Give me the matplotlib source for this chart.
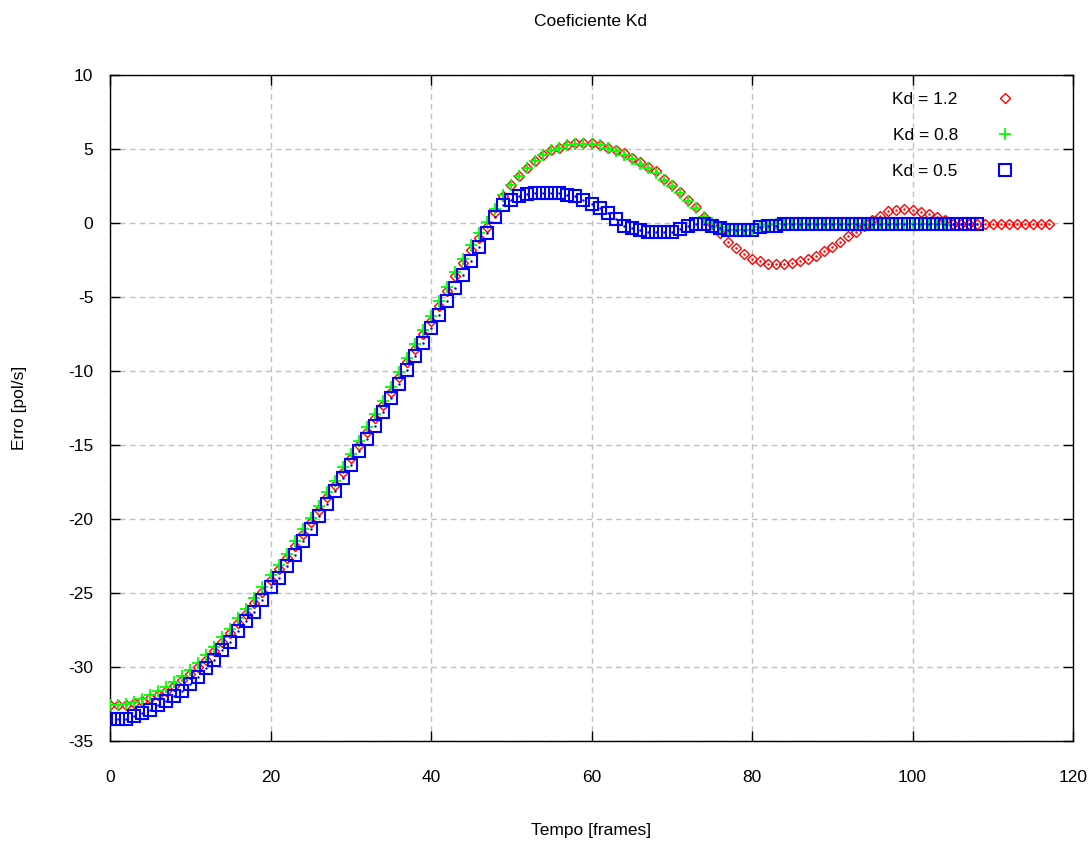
import matplotlib
matplotlib.use("Agg")
import matplotlib.pyplot as plt
import numpy as np

plt.rcParams['font.family'] = ['Liberation Sans Narrow', 'Liberation Sans', 'DejaVu Sans']
plt.rcParams['axes.unicode_minus'] = False

title = "Coeficiente Kd"
xlabel = "Tempo [frames]"
ylabel = "Erro [pol/s]"
labels = ["Kd = 1.2", "Kd = 0.8", "Kd = 0.5"]

kd12 = [-32.57, -32.57, -32.57, -32.45, -32.3, -32.1, -31.9, -31.6, -31.3, -30.9,
        -30.5, -30.0, -29.5, -28.95, -28.3, -27.7, -27.0, -26.4, -25.65, -24.9,
        -24.1, -23.4, -22.65, -21.8, -21.0, -20.2, -19.4, -18.5, -17.7, -16.8,
        -15.9, -15.0, -14.1, -13.2, -12.3, -11.4, -10.4, -9.4, -8.5, -7.5,
        -6.6, -5.6, -4.6, -3.6, -2.7, -1.8, -1.0, -0.25, 0.76, 1.8,
        2.6, 3.2, 3.7, 4.2, 4.6, 4.9, 5.1, 5.3, 5.4, 5.4,
        5.4, 5.3, 5.1, 4.9, 4.7, 4.4, 4.1, 3.8, 3.5, 3.0,
        2.6, 2.1, 1.55, 1.1, 0.4, -0.1, -0.7, -1.3, -1.7, -2.1,
        -2.4, -2.6, -2.75, -2.8, -2.8, -2.7, -2.6, -2.4, -2.2, -1.9,
        -1.6, -1.3, -0.9, -0.6, -0.2, 0.2, 0.5, 0.8, 0.9, 0.95,
        0.9, 0.75, 0.6, 0.4, 0.2, -0.08, -0.08, -0.08, -0.08, -0.08,
        -0.08, -0.08, -0.08, -0.08, -0.08, -0.08, -0.08, -0.08]

kd08 = [-32.55, -32.55, -32.5, -32.35, -32.15, -31.9, -31.65, -31.35, -31.0, -30.6,
        -30.2, -29.7, -29.2, -28.65, -28.0, -27.4, -26.7, -26.1, -25.35, -24.6,
        -23.8, -23.1, -22.35, -21.5, -20.7, -19.9, -19.1, -18.2, -17.4, -16.5,
        -15.6, -14.7, -13.8, -12.9, -12.0, -11.1, -10.1, -9.1, -8.2, -7.2,
        -6.3, -5.3, -4.3, -3.3, -2.4, -1.5, -0.7, 0.05, 0.95, 1.9,
        2.6, 3.2, 3.7, 4.2, 4.6, 4.9, 5.1, 5.3, 5.35, 5.35,
        5.35, 5.25, 5.05, 4.85, 4.6, 4.3, 4.0, 3.7, 3.35, 2.9,
        2.5, 2.0, 1.5, 1.0, 0.4, 0.0, -0.3, -0.5, -0.5, -0.5,
        -0.45, -0.3, -0.15, -0.05, -0.05, -0.05, -0.05, -0.05, -0.05, -0.05,
        -0.05, -0.05, -0.05, -0.05, -0.05, -0.05, -0.05, -0.05, -0.05, -0.05,
        -0.05, -0.05, -0.05, -0.05, -0.05]

kd05 = [-33.5, -33.5, -33.5, -33.3, -33.1, -32.9, -32.6, -32.3, -31.95, -31.6,
        -31.15, -30.65, -30.05, -29.5, -28.85, -28.3, -27.6, -26.9, -26.3, -25.5,
        -24.6, -24.0, -23.2, -22.4, -21.5, -20.7, -19.8, -19.0, -18.1, -17.25,
        -16.35, -15.4, -14.6, -13.7, -12.75, -11.85, -10.9, -9.9, -9.0, -8.1,
        -7.1, -6.2, -5.3, -4.4, -3.5, -2.55, -1.6, -0.7, 0.43, 1.2,
        1.55, 1.8, 1.95, 2.05, 2.05, 2.05, 2.05, 1.9, 1.8, 1.55,
        1.3, 1.0, 0.65, 0.3, -0.2, -0.36, -0.45, -0.6, -0.6, -0.6,
        -0.6, -0.4, -0.2, -0.1, -0.1, -0.2, -0.36, -0.45, -0.45, -0.45,
        -0.45, -0.3, -0.2, -0.2, -0.08, -0.08, -0.08, -0.08, -0.08, -0.08,
        -0.08, -0.08, -0.08, -0.08, -0.08, -0.08, -0.08, -0.08, -0.08, -0.08,
        -0.08, -0.08, -0.08, -0.08, -0.08, -0.08, -0.08, -0.08, -0.08]

x12 = np.arange(len(kd12))
x08 = np.arange(len(kd08))
x05 = np.arange(len(kd05))

W, H = 1088, 841
fig = plt.figure(figsize=(W / 100, H / 100), dpi=100)
ax = fig.add_axes([110 / W, 1 - 741 / H, (1073 - 110) / W, (741 - 75) / H])

fs = 12.5
ax.plot(x12, kd12, linestyle='none', marker='D', ms=5.5, mfc='none', mec='#ff0000', mew=1.0,
        label=labels[0], zorder=3)
ax.plot(x12, kd12, linestyle='none', marker='.', ms=1.5, color='#ff0000', zorder=3)
ax.plot(x08, kd08, linestyle='none', marker='+', ms=8, color='#00ff00', mew=1.3,
        label=labels[1], zorder=4)
ax.plot(x05, kd05, linestyle='none', marker='s', ms=8, mfc='none', mec='#0000ff', mew=1.5,
        label=labels[2], zorder=5)
ax.plot(x05, kd05, linestyle='none', marker='.', ms=1.5, color='#0000ff', zorder=5)

ax.set_xlim(0, 120)
ax.set_ylim(-35, 10)
ax.set_xticks(np.arange(0, 121, 20))
ax.set_yticks(np.arange(-35, 11, 5))
ax.grid(True, color='#c0c0c0', linestyle=(0, (4, 3)), linewidth=1.0)
ax.set_axisbelow(True)
ax.tick_params(direction='in', length=7, width=1, top=True, right=True,
               labelsize=fs, colors='black')
ax.tick_params(axis='x', pad=21)
ax.tick_params(axis='y', pad=12)
for s in ax.spines.values():
    s.set_linewidth(1.0)
    s.set_color('black')

fig.text(591 / W, 1 - 22 / H, title, ha='center', va='center', fontsize=fs)
fig.text(591 / W, 1 - 830 / H, xlabel, ha='center', va='center', fontsize=fs)
fig.text(20 / W, 1 - 408 / H, ylabel, ha='center', va='center', rotation=90, fontsize=fs)

leg = ax.legend(loc='upper right', bbox_to_anchor=(1022 / W, 1 - 92 / H),
                bbox_transform=fig.transFigure, frameon=False, markerfirst=False,
                fontsize=fs, handlelength=2.0, handletextpad=1.7, labelspacing=1.2,
                borderpad=0, borderaxespad=0, numpoints=1)

fig.savefig("out.png", dpi=100)
